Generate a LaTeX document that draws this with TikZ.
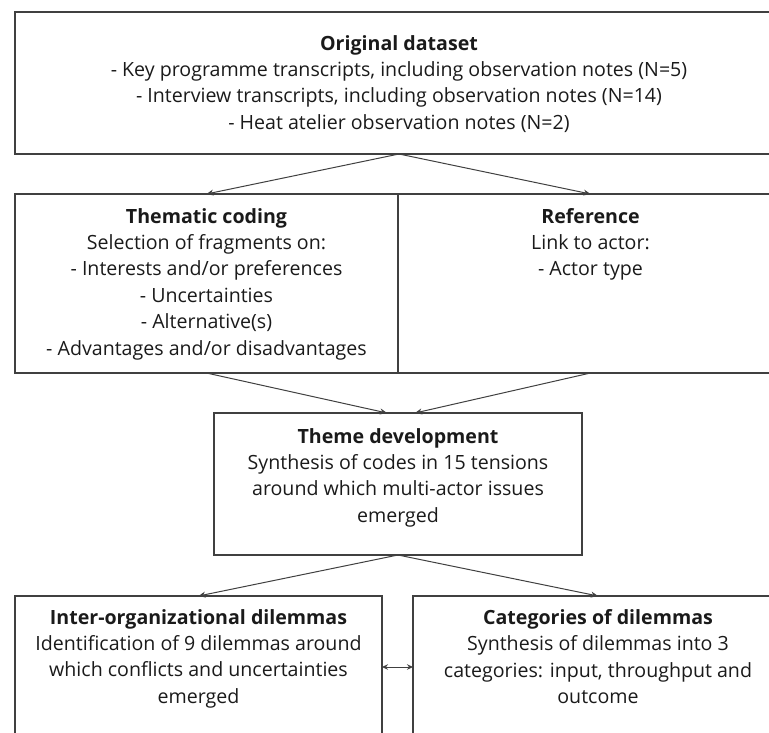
\documentclass[tikz,border=0pt]{standalone}
\usepackage{fontspec}
\setmainfont{Open Sans}
\usetikzlibrary{arrows.meta,calc}
\definecolor{linec}{HTML}{404040}
\definecolor{textc}{HTML}{1A1A1A}
\begin{document}
\begin{tikzpicture}[x=1pt,y=-1pt,
  box/.style={draw=linec, line width=1.3pt, inner sep=0pt, outer sep=0pt, fill=none},
  txt/.style={align=center, inner sep=0pt, text=textc, anchor=north,
    font=\fontsize{19.6}{26.4}\selectfont},
  conn/.style={draw=linec, line width=1pt, -{Stealth[length=7pt,width=6pt]}},
  biconn/.style={draw=linec, line width=1pt, {Stealth[length=6pt,width=5.5pt]}-{Stealth[length=6pt,width=5.5pt]}}]
\useasboundingbox (0,0) rectangle (769,733);
\clip (0,0) rectangle (769,733);
% boxes
\node[box, minimum width=768pt, minimum height=142pt] (orig) at (399,83) {};
\node[box, minimum width=383pt, minimum height=179pt] (them) at (206.5,283.5) {};
\node[box, minimum width=385pt, minimum height=179pt] (refb) at (590.5,283.5) {};
\draw[linec, line width=2pt] (them.north east) -- (them.south east);
\node[box, minimum width=368pt, minimum height=142pt] (theme) at (398,484) {};
\node[box, minimum width=367pt, minimum height=180pt] (idil) at (198.5,686) {};
\node[box, minimum width=370pt, minimum height=180pt] (cdil) at (598,686) {};
% texts
\node[txt] (origtxt) at (399,35) {\textbf{Original dataset}\\
  - Key programme transcripts, including observation notes (N=5)\\
  - Interview transcripts, including observation notes (N=14)\\
  - Heat atelier observation notes (N=2)};
\node[txt] (themtxt) at (206.5,208) {\textbf{Thematic coding}\\
  Selection of fragments on:\\
  - Interests and/or preferences\\
  - Uncertainties\\
  - Alternative(s)\\
  - Advantages and/or disadvantages};
\node[txt] (reftxt) at (590.5,208) {\textbf{Reference}\\
  Link to actor:\\
  - Actor type};
\node[txt] (themetxt) at (398,428) {\textbf{Theme development}\\
  Synthesis of codes in 15 tensions\\
  around which multi-actor issues\\
  emerged};
\node[txt] (idiltxt) at (198.5,609) {\textbf{Inter-organizational dilemmas}\\
  Identification of 9 dilemmas around\\
  which conflicts and uncertainties\\
  emerged};
\node[txt] (cdiltxt) at (598,609) {\textbf{Categories of dilemmas}\\
  Synthesis of dilemmas into 3\\
  categories: input, throughput and\\
  outcome};
% connectors
\draw[conn] (orig.south) -- (them.north);
\draw[conn] (orig.south) -- (refb.north);
\draw[conn] (them.south) -- ($(theme.north)+(-11,0)$);
\draw[conn] (refb.south) -- ($(theme.north)+(17,0)$);
\draw[conn] (theme.south) -- (idil.north);
\draw[conn] (theme.south) -- (cdil.north);
\draw[biconn] (idil.east |- 0,667) -- (cdil.west |- 0,667);
\end{tikzpicture}
\end{document}
